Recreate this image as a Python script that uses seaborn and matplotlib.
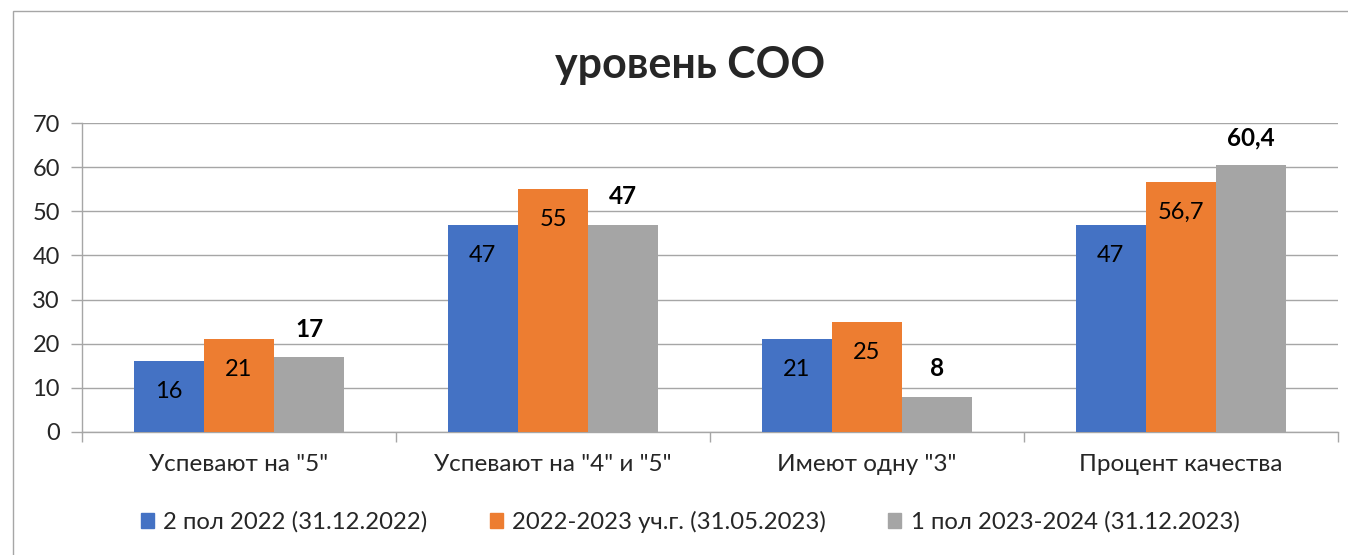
"""
Bar chart: уровень СОО
"""
import numpy as np
import pandas as pd
import matplotlib
matplotlib.use("Agg")
import matplotlib.pyplot as plt
import matplotlib.patches as mpatches
import seaborn as sns

# data
categories = ['Успевают на "5"', 'Успевают на "4" и "5"', 'Имеют одну "3"', 'Процент качества']
series_names = ['2 пол 2022 (31.12.2022)', '2022-2023 уч.г. (31.05.2023)', '1 пол 2023-2024 (31.12.2023)']
vals_2022 = [16, 47, 21, 47]
vals_2023 = [21, 55, 25, 56.7]
vals_2024 = [17, 47, 8, 60.4]
colors = ['#4472C4', '#ED7D31', '#A5A5A5']

df = pd.DataFrame({
    'category': categories * 3,
    'series': np.repeat(series_names, len(categories)),
    'value': vals_2022 + vals_2023 + vals_2024,
})

sns.set_style("white")
plt.rcParams['font.family'] = ['Lato', 'Noto Sans', 'DejaVu Sans']

fig = plt.figure(figsize=(13.48, 5.55), dpi=100)
ax = fig.add_axes([82 / 1348, 1 - 432 / 555, (1338 - 82) / 1348, (432 - 123) / 555])

sns.barplot(data=df, x='category', y='value', hue='series', palette=colors,
            width=0.67, saturation=1, ax=ax, legend=False, zorder=3,
            linewidth=0, edgecolor='none')

ax.set_ylim(0, 70)
ax.set_xlim(-0.5, len(categories) - 0.5)
ax.set_yticks(range(0, 71, 10))
ax.yaxis.grid(True, color='#a6a6a6', linewidth=1, zorder=0)
ax.set_axisbelow(True)
ax.set_xlabel('')
ax.set_ylabel('')

for s in ['top', 'right']:
    ax.spines[s].set_visible(False)
for s in ['left', 'bottom']:
    ax.spines[s].set_color('#a6a6a6')
    ax.spines[s].set_linewidth(1)

ax.set_xticks(np.arange(len(categories)))
ax.set_xticklabels(categories, fontsize=17.5)
ax.tick_params(axis='x', length=0, pad=16)
ax.tick_params(axis='y', labelsize=17, length=8, color='#a6a6a6', width=1, left=True, pad=8)
# category boundary ticks
ax.set_xticks(np.arange(-0.5, len(categories)), minor=True)
ax.tick_params(axis='x', which='minor', length=7, color='#a6a6a6', width=1, bottom=True)

# value labels
def fmt(v):
    return f'{v:g}'.replace('.', ',')

for i, cont in enumerate(ax.containers):
    for bar, v in zip(cont, [vals_2022, vals_2023, vals_2024][i]):
        x = bar.get_x() + bar.get_width() / 2
        h = bar.get_height()
        if i < 2:
            ax.annotate(fmt(v), (x, h), xytext=(0, -22), textcoords='offset points',
                        ha='center', va='center', fontsize=17, color='black')
        else:
            ax.annotate(fmt(v), (x, h), xytext=(0, 20), textcoords='offset points',
                        ha='center', va='center', fontsize=17.5, fontweight='bold', color='black')

fig.text(0.512, 1 - 65 / 555, 'уровень СОО', ha='center', va='center',
         fontsize=31, fontweight='bold')

handles = [mpatches.Patch(color=c, label=n) for c, n in zip(colors, series_names)]
fig.legend(handles=handles, loc='center', bbox_to_anchor=(0.512, 1 - 522 / 555), ncol=3,
           frameon=False, fontsize=17.2, handlelength=0.55, handleheight=0.55,
           handletextpad=0.4, columnspacing=2.6)

# chart frame
fig.patches.append(mpatches.Rectangle((13 / 1348, -0.1), 1.2, 1.1 - 11 / 555,
                                      transform=fig.transFigure, fill=False,
                                      edgecolor='#a6a6a6', linewidth=1))

fig.savefig('out.png', dpi=100)
